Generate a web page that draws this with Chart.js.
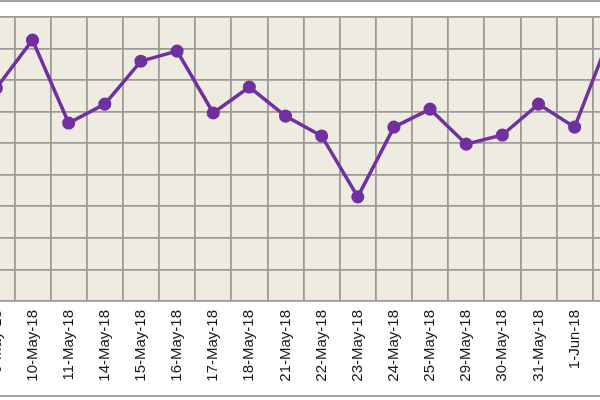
<!DOCTYPE html>
<html>
<head>
<meta charset="utf-8">
<script src="https://cdn.jsdelivr.net/npm/chart.js@4.4.0/dist/chart.umd.min.js"></script>
<style>
  html, body { margin: 0; padding: 0; background: #fff; }
  #frame { position: relative; width: 600px; height: 400px; overflow: hidden; background: #fff; }
  #topLine { position: absolute; left: 0; top: 0; width: 600px; height: 2px; background: #a3a3a3; }
  #bottomLine { position: absolute; left: 0; top: 395px; width: 600px; height: 2px; background: #a3a3a3; }
  #holder { position: absolute; left: -22px; top: 0; width: 650px; height: 400px; }
</style>
</head>
<body>
<div id="frame">
  <div id="holder"><canvas id="priceChart"></canvas></div>
  <div id="topLine"></div>
  <div id="bottomLine"></div>
</div>
<script>
// dates on the x axis (first and last are cut by the picture edge)
let dates = ["9-May-18", "10-May-18", "11-May-18", "14-May-18", "15-May-18", "16-May-18",
  "17-May-18", "18-May-18", "21-May-18", "22-May-18", "23-May-18", "24-May-18",
  "25-May-18", "29-May-18", "30-May-18", "31-May-18", "1-Jun-18", "4-Jun-18"];

// values in gridline units
let values = [6.75, 8.27, 5.64, 6.24, 7.60, 7.92, 5.96, 6.78, 5.86, 5.23,
  3.30, 5.51, 6.08, 4.97, 5.26, 6.24, 5.51, 8.46];

let yMin = 0;
let yMax = 9;

// where the plot area should sit in the 600px frame
let plotLeft = -22;
let plotRight = 628;

// fill the plot area like the excel chart
let plotFill = {
    id: "plotFill",
    beforeDraw(chart) {
        let a = chart.chartArea;
        let ctx = chart.ctx;
        ctx.save();
        ctx.fillStyle = "#eeece1";
        ctx.fillRect(a.left, a.top, a.right - a.left, a.bottom - a.top);
        ctx.restore();
    }
};

let ctx1 = document.getElementById("priceChart").getContext("2d");
let myChart = new Chart(ctx1, {
    type: "line",
    data: {
        labels: dates,
        datasets: [{
            data: values,
            borderColor: "#7030a0",
            backgroundColor: "#7030a0",
            borderWidth: 3.5,
            pointRadius: 4.8,
            pointHoverRadius: 4.8,
            tension: 0,
            clip: false
        }]
    },
    plugins: [plotFill],
    options: {
        responsive: true,
        maintainAspectRatio: false,
        animation: false,
        layout: { padding: { top: 17, left: 0, right: 0, bottom: 0 } },
        plugins: {
            legend: { display: false },
            tooltip: { enabled: false }
        },
        scales: {
            x: {
                offset: true,
                grid: { offset: true, color: "#9a9a9a", lineWidth: 1.8, drawTicks: false },
                border: { display: false },
                ticks: {
                    autoSkip: false,
                    maxRotation: 90,
                    minRotation: 90,
                    padding: 9,
                    color: "#1a1a1a",
                    font: { family: "'Liberation Sans', Arial, sans-serif", size: 15 }
                },
                afterFit(scale) { scale.height = 99; }
            },
            y: {
                min: yMin,
                max: yMax,
                ticks: { display: false, stepSize: 1 },
                grid: { color: "#9a9a9a", lineWidth: 1.8, drawTicks: false },
                border: { display: false },
                afterFit(scale) { scale.width = 0; }
            }
        }
    }
});

// stretch and shift the canvas so the plot area lands where the picture has it
let holder = document.getElementById("holder");
let area = myChart.chartArea;
let extra = myChart.width - (area.right - area.left);
holder.style.width = (plotRight - plotLeft + extra) + "px";
holder.style.left = (plotLeft - area.left) + "px";
myChart.resize();
</script>
</body>
</html>
